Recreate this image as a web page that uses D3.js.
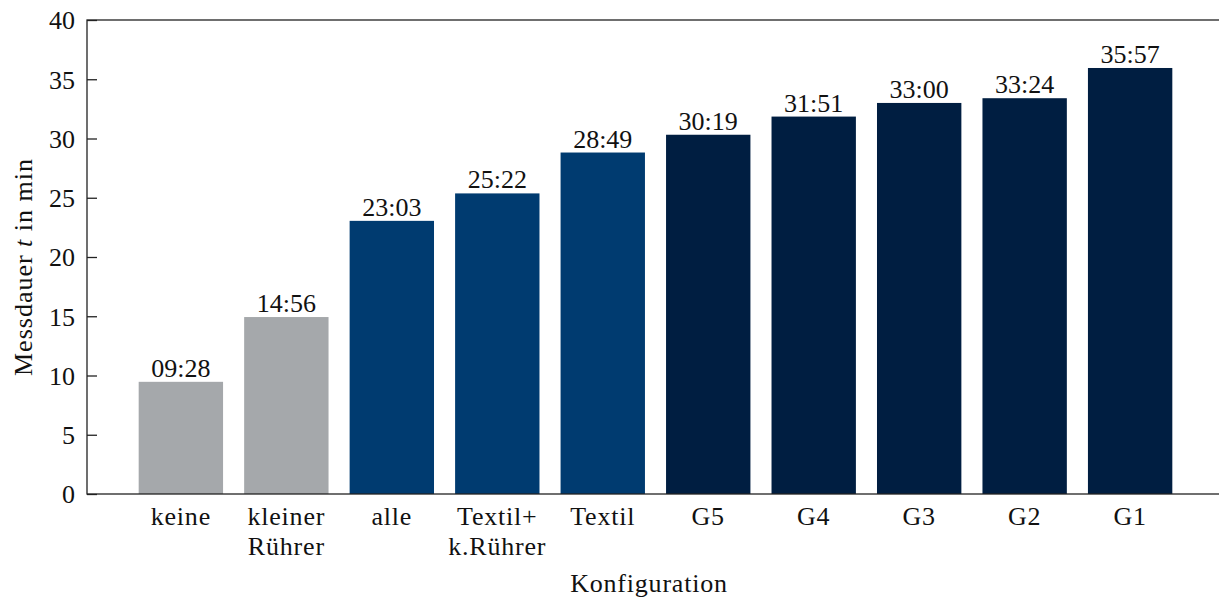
<!DOCTYPE html>
<html>
<head>
<meta charset="utf-8">
<script src="https://cdn.jsdelivr.net/npm/d3@7"></script>
</head>
<body style="margin:0; background:#fff">
<svg id="chart" width="1219" height="599" style="display:block; overflow:hidden"></svg>
<script>
// Measurement configurations (x-axis categories, "\n" marks a line break)
const configurations = ["keine", "kleiner\nRührer", "alle", "Textil+\nk.Rührer", "Textil",
                        "G5", "G4", "G3", "G2", "G1"];
// Measured durations as mm:ss
const durationLabels = ["09:28", "14:56", "23:03", "25:22", "28:49",
                        "30:19", "31:51", "33:00", "33:24", "35:57"];
// Group of each configuration (decides bar colour)
const groups = ["ref", "ref", "textil", "textil", "textil",
                "grid", "grid", "grid", "grid", "grid"];
const groupNames = ["ref", "textil", "grid"];
const groupColors = ["#a5a8ab", "#003b70", "#001e41"];
// y-axis ticks in minutes
const yTicks = [0, 5, 10, 15, 20, 25, 30, 35, 40];

const toMinutes = s => { const [m, sec] = s.split(":").map(Number); return m + sec / 60; };
const minutes = durationLabels.map(toMinutes);

const svg = d3.select("#chart");
const plotLeft = 87, plotRight = 1224, plotTop = 20, plotBottom = 494;
const fontSize = 26;
const ink = "#111";

const styleText = sel => sel
  .style("font-family", '"Liberation Serif"')
  .attr("font-size", fontSize)
  .attr("fill", ink);

const x = d3.scaleBand().domain(configurations).range([plotLeft, plotRight])
  .paddingInner(0.2).paddingOuter(0.49);
const y = d3.scaleLinear().domain([0, 40]).range([plotBottom, plotTop]);
const color = d3.scaleOrdinal().domain(groupNames).range(groupColors);

const data = configurations.map((c, i) => ({ c, v: minutes[i], label: durationLabels[i], g: groups[i] }));

// bars
svg.append("g").selectAll("rect").data(data).join("rect")
  .attr("x", d => x(d.c))
  .attr("width", x.bandwidth())
  .attr("y", d => y(d.v))
  .attr("height", d => y(0) - y(d.v))
  .attr("fill", d => color(d.g));

// value labels above bars
svg.append("g").selectAll("text").data(data).join("text")
  .attr("x", d => x(d.c) + x.bandwidth() / 2)
  .attr("y", d => y(d.v) - 5)
  .attr("text-anchor", "middle")
  .call(styleText)
  .text(d => d.label);

// y axis: inward ticks, labels on the left
const yAxis = d3.axisLeft(y).tickValues(yTicks).tickSizeInner(-10).tickSizeOuter(0).tickPadding(12);
const yg = svg.append("g").attr("transform", `translate(${plotLeft},0)`).call(yAxis)
  .attr("font-family", null).attr("font-size", null);
yg.select(".domain").remove();
yg.selectAll(".tick line").attr("stroke", "#222").attr("stroke-width", 1.3);
yg.selectAll(".tick text").call(styleText).attr("dy", "0.34em");

// x axis category labels (two-line where needed)
const xg = svg.append("g");
data.forEach(d => {
  const cx = x(d.c) + x.bandwidth() / 2;
  const t = xg.append("text")
    .attr("x", cx)
    .attr("y", 525)
    .attr("text-anchor", "middle")
    .call(styleText)
    .attr("letter-spacing", 0.8);
  d.c.split("\n").forEach((line, k) => {
    t.append("tspan")
      .attr("x", cx)
      .attr("dy", k === 0 ? 0 : 30)
      .text(line);
  });
});

// frame
svg.append("rect")
  .attr("x", plotLeft).attr("y", plotTop)
  .attr("width", plotRight - plotLeft).attr("height", plotBottom - plotTop)
  .attr("fill", "none").attr("stroke", "#222").attr("stroke-width", 1.3);

// axis titles
svg.append("text")
  .attr("x", 649).attr("y", 592)
  .attr("text-anchor", "middle")
  .call(styleText)
  .attr("letter-spacing", 0.8)
  .text("Konfiguration");

const yl = svg.append("text")
  .attr("transform", `translate(32,267) rotate(-90)`)
  .attr("text-anchor", "middle")
  .call(styleText)
  .attr("letter-spacing", 1);
yl.append("tspan").text("Messdauer ");
yl.append("tspan").attr("font-style", "italic").text("t");
yl.append("tspan").text(" in min");
</script>
</body>
</html>
